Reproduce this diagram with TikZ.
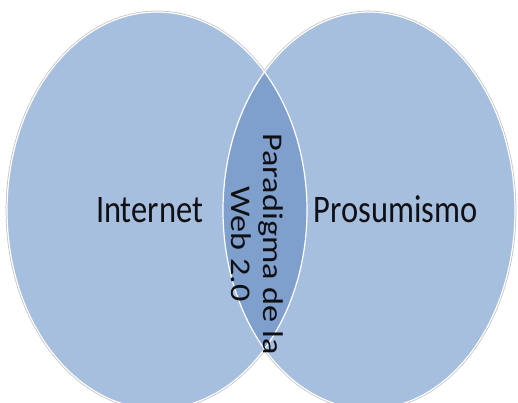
\documentclass[tikz,border=0pt]{standalone}
\usepackage{fontspec}
\setmainfont{Carlito}
\definecolor{setfill}{RGB}{167,191,222}
\definecolor{lensfill}{RGB}{127,159,204}
\definecolor{shadowline}{RGB}{190,190,190}
\definecolor{labeltext}{RGB}{15,15,20}
\begin{document}
\begin{tikzpicture}[x=1pt,y=1pt,
  setshape/.style={fill=setfill},
  bigtext/.style={font=\fontsize{32.5}{36}\selectfont, text=labeltext, inner sep=0pt, yscale=1.2},
  lenstext/.style={font=\fontsize{28.5}{32}\selectfont, text=labeltext, inner sep=0pt, align=center}
]
\useasboundingbox (0,0) rectangle (518,402);
\clip (0,0) rectangle (518,402);
\fill[white] (0,0) rectangle (518,402);
% outer grey rims
\draw[shadowline, line width=2.6pt] (157,191.5) ellipse [x radius=150, y radius=198.5];
\draw[shadowline, line width=2.6pt] (369,191.5) ellipse [x radius=146, y radius=198.5];
% fills
\fill[setshape] (157,191.5) ellipse [x radius=150, y radius=198.5];
\fill[setshape] (369,191.5) ellipse [x radius=146, y radius=198.5];
% lens
\begin{scope}
  \clip (157,191.5) ellipse [x radius=150, y radius=198.5];
  \fill[lensfill] (369,191.5) ellipse [x radius=146, y radius=198.5];
\end{scope}
% white rims
\draw[white, line width=1.2pt] (157,191.5) ellipse [x radius=150, y radius=198.5];
\draw[white, line width=1.2pt] (369,191.5) ellipse [x radius=146, y radius=198.5];
% labels
\node[bigtext, anchor=base] (internet) at (149.5,180) {Internet};
\node[bigtext, anchor=base] (prosumismo) at (395.5,180) {Prosumismo};
\node[lenstext, yscale=1.2, rotate=-90] (paradigma) at (257,158) {Paradigma de la\\Web 2.0};
\end{tikzpicture}
\end{document}
